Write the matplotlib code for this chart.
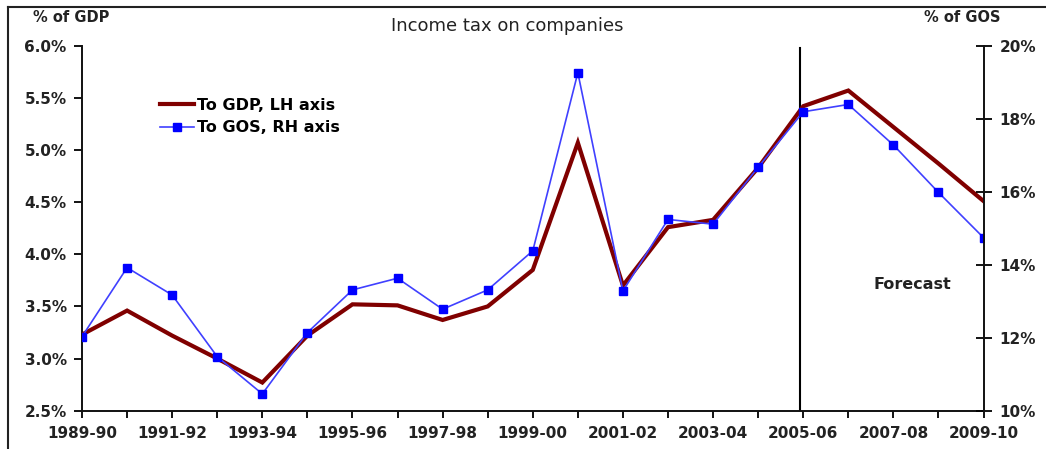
import matplotlib
matplotlib.use("Agg")
import matplotlib.pyplot as plt
from matplotlib.lines import Line2D
from matplotlib.ticker import FuncFormatter

# Income tax on companies, as a share of GDP and of gross operating surplus
years = ['1989-90', '1990-91', '1991-92', '1992-93', '1993-94', '1994-95',
         '1995-96', '1996-97', '1997-98', '1998-99', '1999-00', '2000-01',
         '2001-02', '2002-03', '2003-04', '2004-05', '2005-06', '2006-07',
         '2007-08', '2008-09', '2009-10']
to_gdp = [3.23, 3.46, 3.22, 3.00, 2.77, 3.22, 3.52, 3.51, 3.37, 3.50, 3.85,
          5.07, 3.70, 4.26, 4.33, 4.83, 5.42, 5.57, 5.22, 4.87, 4.51]
to_gos = [12.03, 13.92, 13.17, 11.48, 10.46, 12.14, 13.31, 13.63, 12.78,
          13.31, 14.38, 19.26, 13.28, 15.24, 15.11, 16.67, 18.19, 18.39,
          17.28, 15.98, 14.74]
gdp_ticks = [2.5, 3.0, 3.5, 4.0, 4.5, 5.0, 5.5, 6.0]
gos_ticks = [10, 12, 14, 16, 18, 20]
forecast_start = 15.93

plt.rcParams['font.family'] = ['DejaVu Sans']

fig = plt.figure(figsize=(10.46, 4.49), dpi=100)
ax = fig.add_axes([0.0784, 0.0853, 0.8619, 0.8129])
ax2 = ax.twinx()

x = list(range(len(years)))
line_gdp, = ax.plot(x, to_gdp, color='#800000', lw=3.0,
                    solid_joinstyle='miter', label='To GDP, LH axis', zorder=3)
line_gos, = ax2.plot(x, to_gos, color='#4040ff', lw=1.2, marker='s',
                     markersize=6, markerfacecolor='#0000ff',
                     markeredgecolor='#0000ff', label='To GOS, RH axis')

ax.set_xlim(0, len(years) - 1)
ax.set_ylim(2.5, 6.0)
ax2.set_ylim(10, 20)

ax.set_xticks(x)
ax.set_xticklabels([y if i % 2 == 0 else '' for i, y in enumerate(years)],
                   fontsize=11, fontweight='bold', color='#222222')
ax.set_yticks(gdp_ticks)
ax.yaxis.set_major_formatter(FuncFormatter(lambda v, p: f'{v:.1f}%'))
ax2.set_yticks(gos_ticks)
ax2.yaxis.set_major_formatter(FuncFormatter(lambda v, p: f'{v:.0f}%'))

ax.tick_params(axis='x', direction='out', length=5, width=1.3, pad=6)
ax.tick_params(axis='y', direction='out', length=6, width=1.3, pad=5,
               labelsize=11)
for lab in ax.get_yticklabels():
    lab.set_fontweight('bold')
    lab.set_color('#222222')
ax2.tick_params(axis='y', direction='inout', length=11, width=1.3, pad=6,
                labelsize=11)
for lab in ax2.get_yticklabels():
    lab.set_fontweight('bold')
    lab.set_color('#222222')

for a in (ax, ax2):
    a.spines['top'].set_visible(False)
    for s in ('left', 'right', 'bottom'):
        a.spines[s].set_linewidth(1.4)
        a.spines[s].set_color('#111111')
ax.spines['right'].set_visible(False)
ax2.spines['left'].set_visible(False)
ax2.spines['bottom'].set_visible(False)

# forecast marker
ax.axvline(forecast_start, ymax=0.993, color='black', lw=1.5, zorder=2)
ax.text(18.43, 3.71, 'Forecast', fontsize=11.5, fontweight='bold',
        color='#222222', ha='center', va='center')

ax.legend([line_gdp, line_gos], ['To GDP, LH axis', 'To GOS, RH axis'],
          loc='upper left', bbox_to_anchor=(160 / 1046, 1 - 98 / 449),
          bbox_transform=fig.transFigure, frameon=False,
          prop={'size': 11.5, 'weight': 'bold'}, handlelength=2.1,
          handletextpad=0.2, labelspacing=0.45, borderpad=0,
          borderaxespad=0)

fig.text(71 / 1046, 1 - 18 / 449, '% of GDP', fontsize=10.5,
         fontweight='bold', color='#222222', ha='center', va='center')
fig.text(962 / 1046, 1 - 18 / 449, '% of GOS', fontsize=10.5,
         fontweight='bold', color='#222222', ha='center', va='center')
fig.text(507 / 1046, 1 - 26 / 449, 'Income tax on companies', fontsize=13,
         color='#222222', ha='center', va='center')

# frame around the chart
fig.add_artist(Line2D([7.5 / 1046, 7.5 / 1046], [0, 1 - 7 / 449],
                      color='#222222', lw=1.5))
fig.add_artist(Line2D([7.5 / 1046, 1], [1 - 7 / 449, 1 - 7 / 449],
                      color='#222222', lw=1.5))

fig.savefig('out.png', dpi=100)
